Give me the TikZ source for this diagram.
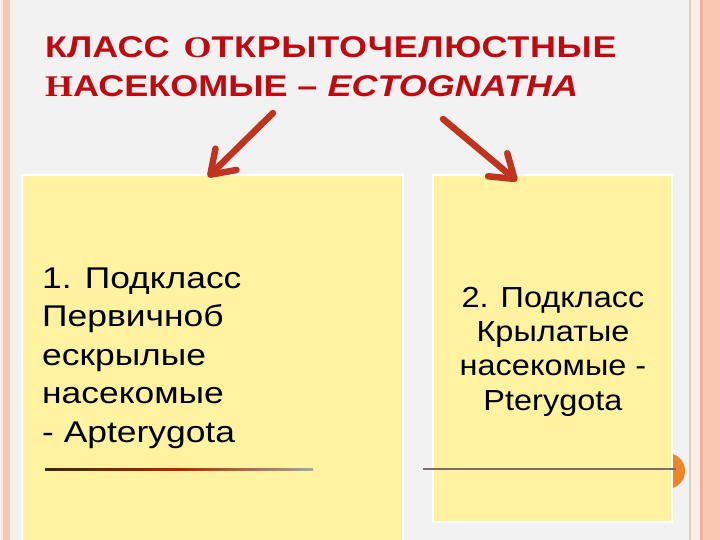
\documentclass[tikz,border=0pt]{standalone}
\usepackage{fontspec}
\setmainfont{Liberation Sans}
\newfontfamily\titlesans[FakeStretch=1.2]{Liberation Sans}
\newfontfamily\titlesanswide[FakeStretch=1.2,LetterSpace=2.2]{Liberation Sans}
\newfontfamily\titleserif[FakeStretch=1.2]{Liberation Serif}
\newfontfamily\boxfontL[FakeStretch=1.18]{Liberation Sans}
\newfontfamily\boxfontR[FakeStretch=1.12]{Liberation Sans}
\usetikzlibrary{arrows.meta}
\definecolor{bggray}{RGB}{242,242,243}
\definecolor{salmon}{RGB}{250,199,178}
\definecolor{salmondark}{RGB}{243,176,152}
\definecolor{paleline}{RGB}{251,238,232}
\definecolor{tanline}{RGB}{228,204,190}
\definecolor{titlered}{RGB}{192,10,16}
\definecolor{arrowred}{RGB}{192,52,30}
\definecolor{boxyellow}{RGB}{255,242,160}
\definecolor{dotorange}{RGB}{240,132,40}
\definecolor{rulegray}{RGB}{125,108,108}
\begin{document}
\begin{tikzpicture}[x=1pt,y=-1pt,
  titletext/.style={anchor=base west, inner sep=0pt, text=titlered,
    font=\titlesans\bfseries\fontsize{30}{36}\selectfont},
  yellowbox/.style={fill=boxyellow, draw=white, line width=2.5pt},
  bigarrow/.style={draw=arrowred, line width=6.5pt, line cap=round,
    -{Straight Barb[length=22pt, width=30pt, line cap=round, line join=round]}},
  boxtext/.style={inner sep=0pt, text=black}
]
\useasboundingbox (0,0) rectangle (720,540);
% background and frame strips
\fill[bggray] (0,0) rectangle (720,540);
\fill[paleline] (0,0) rectangle (2.5,540);
\fill[salmon] (2.5,0) rectangle (9.5,540);
\fill[paleline] (9.5,0) rectangle (13,540);
\fill[tanline] (688.5,0) rectangle (690.5,540);
\fill[paleline] (690.5,0) rectangle (700,540);
\fill[salmondark] (700,0) rectangle (703,540);
\fill[salmon] (703,0) rectangle (720,540);
% orange marker behind right box
\fill[dotorange] (667,471) circle (18);
% boxes
\path[yellowbox] (22,175) rectangle (403,545);
\path[yellowbox] (433,175) rectangle (672,522);
% title
\node[titletext] (t1) at (45,58) {КЛАСС\hspace{14pt}{\titleserif\bfseries О}{\titlesanswide\bfseries ТКРЫТОЧЕЛЮСТНЫЕ}};
\node[titletext] (t2) at (45,97) {{\titleserif\bfseries Н}АСЕКОМЫЕ – \textit{ECTOGNATHA}};
% box texts (anchor base = baseline of last line)
\node[boxtext, anchor=base west, align=left,
  font=\boxfontL\fontsize{30}{38.5}\selectfont] (p1) at (42,442)
  {1. Подкласс\\Первичноб\\ескрылые\\насекомые\\- Apterygota};
\node[boxtext, anchor=base, align=center,
  font=\boxfontR\fontsize{29}{34.3}\selectfont] (p2) at (553,410)
  {2. Подкласс\\Крылатые\\насекомые -\\Pterygota};
% rules
\shade[left color=black!70!brown, right color=gray!70, middle color=red!55!orange!70!black]
  (45,468) rectangle (313,470.5);
\fill[rulegray] (423,468) rectangle (676,470);
% arrows
\coordinate (a1s) at (273,113);
\coordinate (a1e) at (208,177);
\coordinate (a2s) at (443,119);
\coordinate (a2e) at (517,181);
\draw[bigarrow] (a1s) -- (a1e);
\draw[bigarrow] (a2s) -- (a2e);
\end{tikzpicture}
\end{document}
